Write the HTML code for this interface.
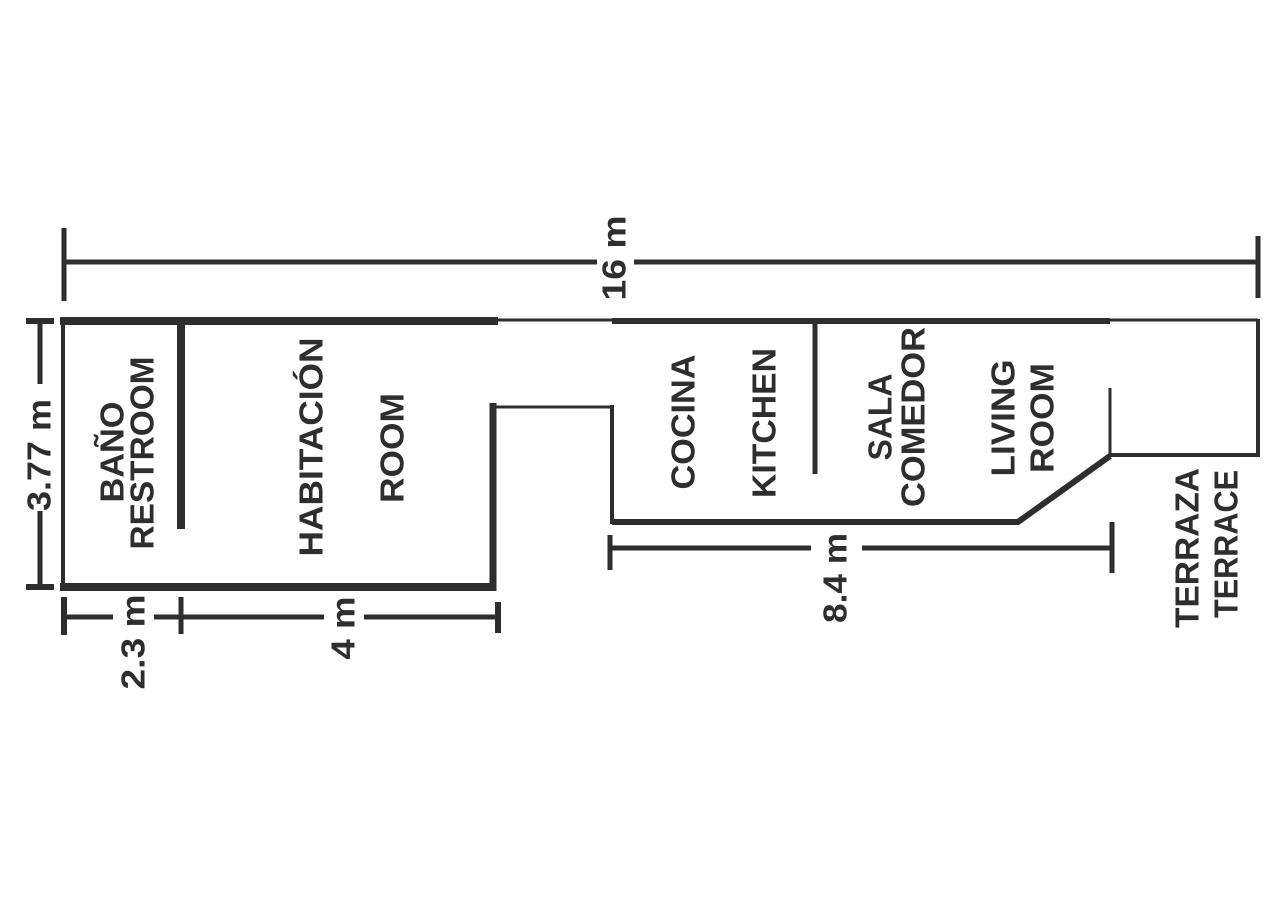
<!DOCTYPE html>
<html><head><meta charset="utf-8"><style>html,body{margin:0;padding:0;background:#fff}svg{display:block}</style></head>
<body>
<svg width="1280" height="900" viewBox="0 0 1280 900" xmlns="http://www.w3.org/2000/svg">
<g stroke="#2e2e2e" fill="none" stroke-linecap="butt">
<line x1="63" y1="262" x2="597" y2="262" stroke-width="5"/>
<line x1="634" y1="262" x2="1258" y2="262" stroke-width="5"/>
<line x1="64" y1="228" x2="64" y2="301" stroke-width="5"/>
<line x1="1258" y1="236" x2="1258" y2="298" stroke-width="5"/>
<line x1="60" y1="321" x2="498" y2="321" stroke-width="8"/>
<line x1="498" y1="320" x2="612" y2="320" stroke-width="3"/>
<line x1="612" y1="321" x2="1110" y2="321" stroke-width="6"/>
<line x1="1110" y1="320" x2="1258" y2="320" stroke-width="3"/>
<line x1="63" y1="318" x2="63" y2="590" stroke-width="4"/>
<line x1="60" y1="587" x2="496" y2="587" stroke-width="8"/>
<line x1="493" y1="403" x2="493" y2="591" stroke-width="7"/>
<line x1="493" y1="407" x2="612" y2="407" stroke-width="3"/>
<line x1="612" y1="405" x2="612" y2="524" stroke-width="4"/>
<polyline points="612,522 1018,522 1110,456" stroke-width="6"/>
<line x1="1110" y1="388" x2="1110" y2="456" stroke-width="3"/>
<line x1="1110" y1="455" x2="1259" y2="455" stroke-width="4"/>
<line x1="1258" y1="319" x2="1258" y2="457" stroke-width="4"/>
<line x1="181" y1="318" x2="181" y2="529" stroke-width="8"/>
<line x1="815" y1="318" x2="815" y2="474" stroke-width="5"/>
<line x1="40" y1="319" x2="40" y2="384" stroke-width="5"/>
<line x1="40" y1="511" x2="40" y2="588" stroke-width="5"/>
<line x1="26" y1="321" x2="54" y2="321" stroke-width="6"/>
<line x1="26" y1="587" x2="54" y2="587" stroke-width="6"/>
<line x1="63" y1="617" x2="113" y2="617" stroke-width="5"/>
<line x1="154" y1="617" x2="324" y2="617" stroke-width="5"/>
<line x1="364" y1="617" x2="498" y2="617" stroke-width="5"/>
<line x1="64" y1="597" x2="64" y2="635" stroke-width="6"/>
<line x1="181" y1="597" x2="181" y2="634" stroke-width="5"/>
<line x1="498" y1="602" x2="498" y2="633" stroke-width="6"/>
<line x1="610" y1="548" x2="811" y2="548" stroke-width="5"/>
<line x1="862" y1="548" x2="1112" y2="548" stroke-width="5"/>
<line x1="610" y1="535" x2="610" y2="570" stroke-width="5"/>
<line x1="1112" y1="522" x2="1112" y2="573" stroke-width="5"/>
</g>
<g fill="#2e2e2e" font-family="Liberation Sans, DejaVu Sans, sans-serif" font-weight="bold" font-size="33" text-anchor="middle" dominant-baseline="central">
<text transform="translate(614,258) rotate(-90)" textLength="85" lengthAdjust="spacingAndGlyphs">16 m</text>
<text transform="translate(39,455) rotate(-90)" textLength="112" lengthAdjust="spacingAndGlyphs">3.77 m</text>
<text transform="translate(133,642) rotate(-90)" textLength="95" lengthAdjust="spacingAndGlyphs">2.3 m</text>
<text transform="translate(343,628) rotate(-90)" textLength="63" lengthAdjust="spacingAndGlyphs">4 m</text>
<text transform="translate(835,578) rotate(-90)" textLength="90" lengthAdjust="spacingAndGlyphs">8.4 m</text>
<text transform="translate(112,452) rotate(-90)" textLength="101" lengthAdjust="spacingAndGlyphs">BAÑO</text>
<text transform="translate(142,453) rotate(-90)" textLength="193" lengthAdjust="spacingAndGlyphs">RESTROOM</text>
<text transform="translate(311,447) rotate(-90)" textLength="219" lengthAdjust="spacingAndGlyphs">HABITACIÓN</text>
<text transform="translate(392,448) rotate(-90)" textLength="110" lengthAdjust="spacingAndGlyphs">ROOM</text>
<text transform="translate(683,422) rotate(-90)" textLength="135" lengthAdjust="spacingAndGlyphs">COCINA</text>
<text transform="translate(764,423) rotate(-90)" textLength="150" lengthAdjust="spacingAndGlyphs">KITCHEN</text>
<text transform="translate(880,417) rotate(-90)" textLength="87" lengthAdjust="spacingAndGlyphs">SALA</text>
<text transform="translate(913,417) rotate(-90)" textLength="180" lengthAdjust="spacingAndGlyphs">COMEDOR</text>
<text transform="translate(1003,418) rotate(-90)" textLength="117" lengthAdjust="spacingAndGlyphs">LIVING</text>
<text transform="translate(1042,418) rotate(-90)" textLength="110" lengthAdjust="spacingAndGlyphs">ROOM</text>
<text transform="translate(1187,548) rotate(-90)" textLength="160" lengthAdjust="spacingAndGlyphs">TERRAZA</text>
<text transform="translate(1226,544) rotate(-90)" textLength="148" lengthAdjust="spacingAndGlyphs">TERRACE</text>
</g>
</svg>
</body></html>
